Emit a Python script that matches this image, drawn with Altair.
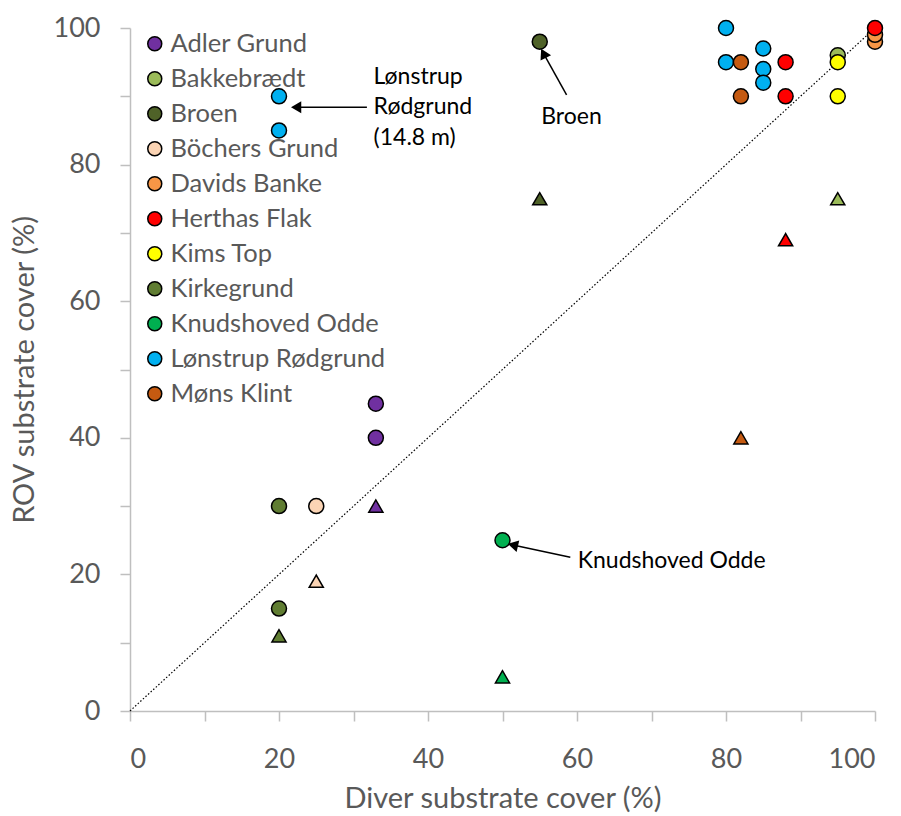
import altair as alt
import pandas as pd

FONT = "Lato"

sites = ["Adler Grund", "Bakkebrædt", "Broen", "Böchers Grund", "Davids Banke",
         "Herthas Flak", "Kims Top", "Kirkegrund", "Knudshoved Odde",
         "Lønstrup Rødgrund", "Møns Klint"]
colors = ["#7030A0", "#9BBB59", "#4F6228", "#FBD4B4", "#F79646",
          "#FF0000", "#FFFF00", "#607D32", "#00B050", "#00B0F0", "#C55A11"]

# circle series
circ_site = ["Adler Grund", "Adler Grund", "Bakkebrædt", "Broen", "Böchers Grund",
             "Davids Banke", "Davids Banke", "Herthas Flak", "Herthas Flak", "Herthas Flak",
             "Kims Top", "Kims Top", "Kirkegrund", "Kirkegrund", "Knudshoved Odde",
             "Lønstrup Rødgrund", "Lønstrup Rødgrund", "Lønstrup Rødgrund", "Lønstrup Rødgrund",
             "Lønstrup Rødgrund", "Lønstrup Rødgrund", "Lønstrup Rødgrund",
             "Møns Klint", "Møns Klint"]
circ_x = [33, 33, 95, 55, 25, 100, 100, 100, 88, 88, 95, 95, 20, 20, 50,
          20, 20, 80, 80, 85, 85, 85, 82, 82]
circ_y = [45, 40, 96, 98, 30, 98, 99, 100, 95, 90, 95, 90, 30, 15, 25,
          90, 85, 100, 95, 97, 94, 92, 95, 90]

# triangle series
tri_site = ["Adler Grund", "Bakkebrædt", "Broen", "Böchers Grund", "Herthas Flak",
            "Kirkegrund", "Knudshoved Odde", "Møns Klint"]
tri_x = [33, 95, 55, 25, 88, 20, 50, 82]
tri_y = [30, 75, 75, 19, 69, 11, 5, 40]

# annotations (data units)
arrow_x = [31.8, 58.6, 59.1]
arrow_y = [88.4, 90.2, 22.5]
arrow_x2 = [22.3, 55.5, 51.4]
arrow_y2 = [88.4, 96.3, 24.3]
head_angle = [270, 333, 283]

note_text = ["Lønstrup", "Rødgrund", "(14.8 m)", "Broen", "Knudshoved Odde"]
note_x = [32.7, 32.7, 32.7, 55.2, 60.1]
note_y = [92.8, 88.4, 83.9, 87.0, 22.0]

diag_x = [0, 100]
diag_y = [0, 100]

circ = pd.DataFrame({"site": circ_site, "x": circ_x, "y": circ_y})
tri = pd.DataFrame({"site": tri_site, "x": tri_x, "y": tri_y})
arrows = pd.DataFrame({"x": arrow_x, "y": arrow_y, "x2": arrow_x2, "y2": arrow_y2, "a": head_angle})
notes = pd.DataFrame({"t": note_text, "x": note_x, "y": note_y})
diag = pd.DataFrame({"x": diag_x, "y": diag_y})

xscale = alt.Scale(domain=[0, 100], nice=False, zero=False)
yscale = alt.Scale(domain=[0, 100], nice=False, zero=False)
fscale = alt.Scale(domain=sites, range=colors)

tickvals = list(range(0, 101, 10))
xaxis = alt.Axis(values=tickvals, labelExpr="datum.value % 20 == 0 ? datum.label : ''",
                 title="Diver substrate cover (%)", grid=False, tickSize=10,
                 labelPadding=25, titlePadding=12)
yaxis = alt.Axis(values=tickvals, labelExpr="datum.value % 20 == 0 ? datum.label : ''",
                 title="ROV substrate cover (%)", grid=False, tickSize=10,
                 labelPadding=20, titlePadding=14)

base_x = alt.X("x:Q", scale=xscale, axis=xaxis)
base_y = alt.Y("y:Q", scale=yscale, axis=yaxis)

legend = alt.Legend(title=None, orient="none", legendX=12, legendY=3,
                    symbolType="circle", symbolSize=196,
                    symbolStrokeColor="black", symbolStrokeWidth=1.5,
                    labelFontSize=25.5, labelFont=FONT, labelColor="#595959",
                    rowPadding=8, labelOffset=3, labelLimit=400,
                    padding=0, symbolOpacity=1)

diag_line = alt.Chart(diag).mark_line(color="black", strokeWidth=1.2, strokeDash=[1.5, 2]).encode(
    x=base_x, y=base_y)

circles = alt.Chart(circ).mark_point(shape="circle", filled=True, stroke="black",
                                     strokeWidth=1.5, size=225, opacity=1).encode(
    x="x:Q", y="y:Q",
    fill=alt.Fill("site:N", scale=fscale, sort=sites, legend=legend))

triangles = alt.Chart(tri).mark_point(shape="triangle-up", filled=True, stroke="black",
                                      strokeWidth=1.5, size=200, opacity=1).encode(
    x="x:Q", y="y:Q",
    fill=alt.Fill("site:N", scale=fscale, sort=sites, legend=legend))

arrow_lines = alt.Chart(arrows).mark_rule(color="black", strokeWidth=1.5).encode(
    x="x:Q", y="y:Q", x2="x2:Q", y2="y2:Q")
arrow_heads = alt.Chart(arrows).mark_point(shape="triangle-up", filled=True, color="black",
                                           size=140, opacity=1).encode(
    x="x2:Q", y="y2:Q", angle=alt.Angle("a:Q", scale=None))

texts = alt.Chart(notes).mark_text(align="left", baseline="middle", font=FONT,
                                   fontSize=23, color="black").encode(
    x="x:Q", y="y:Q", text="t:N")

chart = alt.layer(diag_line, circles, triangles, arrow_lines, arrow_heads, texts).properties(
    width=745, height=683,
    autosize=alt.AutoSizeParams(type="none"),
    padding={"left": 130, "top": 28, "right": 26, "bottom": 105},
).configure_view(stroke=None).configure_axis(
    domainColor="#BFBFBF", domainWidth=1.5, tickColor="#BFBFBF", tickWidth=1.5,
    labelFont=FONT, labelFontSize=27, labelColor="#595959",
    titleFont=FONT, titleFontSize=29, titleColor="#595959", titleFontWeight="normal"
)

chart.save("out.html", embed_options={"renderer": "svg", "actions": False})
